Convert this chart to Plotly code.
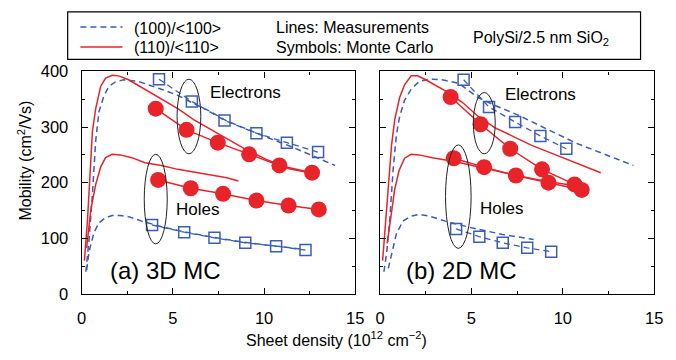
import plotly.graph_objects as go

W, H = 676, 360
RED = "#e8232a"
BLUE = "#3b5db5"

# ---------------- data: panel (a) 3D MC ----------------
meas_e100_a_x = [0.23, 0.41, 0.59, 0.77, 0.95, 1.22, 1.49, 1.85, 2.3, 3.11, 4.37, 5.27, 6.16, 7.06, 7.96, 9.04, 10.12, 11.55, 12.63, 13.89]
meas_e100_a_y = [40, 100, 180, 276, 328, 356, 373, 381, 385, 382, 368, 357, 342, 328, 311, 296, 282, 264, 249, 231]
meas_e110_a_x = [0.15, 0.32, 0.59, 0.77, 1.04, 1.31, 1.67, 2.03, 2.57, 3.47, 4.37, 5.27, 6.16, 7.06, 7.96, 9.04, 10.12, 11.37, 12.63]
meas_e110_a_y = [60, 134, 293, 333, 373, 388, 393, 392, 385, 368, 350, 333, 313, 296, 279, 259, 242, 225, 217]
meas_h110_a_x = [0.27, 0.5, 0.77, 1.04, 1.31, 1.67, 2.12, 2.75, 3.47, 4.37, 5.27, 6.16, 7.06, 7.96, 8.59]
meas_h110_a_y = [83, 151, 197, 228, 245, 251, 250, 245, 236, 231, 224, 219, 215, 209, 203]
meas_h100_a_x = [0.27, 0.41, 0.68, 0.95, 1.31, 1.67, 2.12, 2.57, 3.29, 4.37, 5.6, 7.2, 8.9, 10.6, 12.2]
meas_h100_a_y = [43, 77, 111, 128, 137, 141, 141, 139, 131, 121, 112, 102, 93, 86, 80]

mc_e100_a_x = [4.24, 6.04, 7.83, 9.58, 11.25, 12.96]
mc_e100_a_y = [386, 346, 312, 289, 272, 255]
mc_e110_a_x = [4.06, 5.75, 7.46, 9.18, 10.84, 12.63]
mc_e110_a_y = [333, 295, 272, 251, 231, 218]
mc_h110_a_x = [4.19, 5.98, 7.75, 9.58, 11.34, 13.0]
mc_h110_a_y = [205, 190, 180, 168, 159, 152]
mc_h100_a_x = [3.86, 5.62, 7.28, 8.97, 10.66, 12.27]
mc_h100_a_y = [124, 111, 101, 92, 86, 79]

# ---------------- data: panel (b) 2D MC ----------------
meas_e110_b_x = [0.14, 0.27, 0.45, 0.63, 0.8, 1.07, 1.34, 1.7, 2.05, 2.5, 3.57, 4.48, 5.37, 6.27, 7.16, 8.23, 9.3, 10.73, 12.07]
meas_e110_b_y = [60, 114, 194, 268, 313, 353, 376, 392, 392, 385, 365, 345, 319, 299, 285, 268, 254, 236, 218]
meas_e100_b_x = [0.21, 0.36, 0.54, 0.71, 0.89, 1.07, 1.34, 1.7, 2.14, 2.68, 3.39, 4.28, 5.37, 6.27, 7.52, 8.94, 10.73, 12.52, 13.86]
meas_e100_b_y = [40, 74, 137, 222, 285, 319, 348, 368, 382, 386, 385, 379, 353, 339, 322, 299, 271, 248, 231]
meas_h110_b_x = [0.39, 0.63, 0.8, 1.04, 1.34, 1.7, 2.14, 2.86, 3.57, 4.07, 5.6, 7.3, 9.0, 10.4]
meas_h110_b_y = [91, 148, 188, 222, 244, 251, 250, 245, 241, 238, 227, 214, 203, 196]
meas_h100_b_x = [0.45, 0.63, 0.89, 1.25, 1.7, 2.14, 2.68, 3.57, 5.0, 6.7, 8.4]
meas_h100_b_y = [46, 74, 108, 131, 140, 143, 140, 131, 119, 107, 98]

mc_e100_b_x = [4.57, 5.96, 7.39, 8.77, 10.19]
mc_e100_b_y = [385, 336, 309, 284, 261]
mc_e110_b_x = [3.86, 5.5, 7.12, 8.86, 10.64]
mc_e110_b_y = [354, 305, 261, 224, 197]
mc_h110_b_x = [4.03, 5.69, 7.43, 9.21, 11.03]
mc_h110_b_y = [244, 228, 213, 200, 187]
mc_h100_b_x = [4.16, 5.43, 6.71, 8.05, 9.36]
mc_h100_b_y = [117, 103, 92, 83, 76]

# ellipses (x0, x1, y0, y1) in data units
ellipses_a = [(5.23, 6.53, 252, 386), (3.43, 4.69, 90, 251)]
ellipses_b = [(5.1, 6.3, 252, 362), (3.58, 4.98, 82, 268)]

# text labels
labels_a = [("Electrons", 8.96, 362, 17), ("Holes", 6.35, 151, 17), ("(a) 3D MC", 4.6, 43, 24)]
labels_b = [("Electrons", 8.8, 359, 17), ("Holes", 6.63, 154, 17), ("(b) 2D MC", 4.48, 43, 24)]

x_ticks = [0, 5, 10, 15]
y_ticks = [0, 100, 200, 300, 400]

FONT = "Liberation Sans, Arial, sans-serif"
DASH = "6px,4px"

fig = go.Figure()


def line(xs, ys, color, dash, xa, ya):
    fig.add_trace(go.Scatter(x=xs, y=ys, mode="lines", xaxis=xa, yaxis=ya,
                             line=dict(color=color, width=1.5, dash=dash),
                             showlegend=False, hoverinfo="skip"))


def mc_sq(xs, ys, xa, ya):
    fig.add_trace(go.Scatter(x=xs, y=ys, mode="lines+markers", xaxis=xa, yaxis=ya,
                             line=dict(color=BLUE, width=1.3, dash=DASH),
                             marker=dict(symbol="square-open", size=11, color=BLUE,
                                         line=dict(color=BLUE, width=1.5)),
                             showlegend=False))


def mc_ci(xs, ys, xa, ya):
    fig.add_trace(go.Scatter(x=xs, y=ys, mode="lines+markers", xaxis=xa, yaxis=ya,
                             line=dict(color=RED, width=1.5),
                             marker=dict(symbol="circle", size=16, color=RED,
                                         line=dict(width=0)),
                             showlegend=False))


for xa, ya, d in [("x", "y", dict(
        me100=(meas_e100_a_x, meas_e100_a_y), me110=(meas_e110_a_x, meas_e110_a_y),
        mh110=(meas_h110_a_x, meas_h110_a_y), mh100=(meas_h100_a_x, meas_h100_a_y),
        ce100=(mc_e100_a_x, mc_e100_a_y), ce110=(mc_e110_a_x, mc_e110_a_y),
        ch110=(mc_h110_a_x, mc_h110_a_y), ch100=(mc_h100_a_x, mc_h100_a_y))),
        ("x2", "y2", dict(
        me100=(meas_e100_b_x, meas_e100_b_y), me110=(meas_e110_b_x, meas_e110_b_y),
        mh110=(meas_h110_b_x, meas_h110_b_y), mh100=(meas_h100_b_x, meas_h100_b_y),
        ce100=(mc_e100_b_x, mc_e100_b_y), ce110=(mc_e110_b_x, mc_e110_b_y),
        ch110=(mc_h110_b_x, mc_h110_b_y), ch100=(mc_h100_b_x, mc_h100_b_y)))]:
    line(*d["me100"], BLUE, DASH, xa, ya)
    line(*d["mh100"], BLUE, DASH, xa, ya)
    line(*d["me110"], RED, "solid", xa, ya)
    line(*d["mh110"], RED, "solid", xa, ya)
    mc_sq(*d["ce100"], xa, ya)
    mc_sq(*d["ch100"], xa, ya)
    mc_ci(*d["ce110"], xa, ya)
    mc_ci(*d["ch110"], xa, ya)

shapes = []
annotations = []
for xa, ya, ells, labs in [("x", "y", ellipses_a, labels_a), ("x2", "y2", ellipses_b, labels_b)]:
    for (x0, x1, y0, y1) in ells:
        shapes.append(dict(type="circle", xref=xa, yref=ya, x0=x0, x1=x1, y0=y0, y1=y1,
                           line=dict(color="#222", width=1)))
    for (t, x, y, s) in labs:
        annotations.append(dict(text=t, x=x, y=y, xref=xa, yref=ya, showarrow=False,
                                font=dict(size=s, color="black", family=FONT),
                                xanchor="center", yanchor="middle"))


def px(x):
    return x / W


def py(y):
    return 1 - y / H


# legend box
shapes.append(dict(type="rect", xref="paper", yref="paper", x0=px(64), x1=px(649),
                   y0=py(53), y1=py(3), line=dict(color="black", width=1.2)))
shapes.append(dict(type="line", xref="paper", yref="paper", x0=px(77), x1=px(120),
                   y0=py(19), y1=py(19), line=dict(color=BLUE, width=1.5, dash=DASH)))
shapes.append(dict(type="line", xref="paper", yref="paper", x0=px(77), x1=px(120),
                   y0=py(40), y1=py(40), line=dict(color=RED, width=1.5)))

legend_texts = [("(100)/&lt;100&gt;", 130, 20), ("(110)/&lt;110&gt;", 130, 41),
                ("Lines: Measurements", 275, 19), ("Symbols: Monte Carlo", 275, 40),
                ("PolySi/2.5 nm SiO<sub>2</sub>", 476, 31)]
for t, x, y in legend_texts:
    annotations.append(dict(text=t, x=px(x), y=py(y), xref="paper", yref="paper",
                            showarrow=False, xanchor="left", yanchor="middle",
                            font=dict(size=16, color="black", family=FONT)))

annotations.append(dict(text="Sheet density (10<sup>12</sup> cm<sup>\u22122</sup>)",
                        x=px(339), y=py(347), xref="paper", yref="paper", showarrow=False,
                        xanchor="center", yanchor="middle",
                        font=dict(size=16, color="black", family=FONT)))
annotations.append(dict(text="Mobility (cm<sup>2</sup>/Vs)", textangle=-90,
                        x=px(20), y=py(160), xref="paper", yref="paper", showarrow=False,
                        xanchor="center", yanchor="middle",
                        font=dict(size=16, color="black", family=FONT)))

axis_common = dict(showline=True, linecolor="black", linewidth=1.2, mirror="ticks",
                   ticks="inside", ticklen=6, tickwidth=1.2, tickcolor="black",
                   showgrid=False, zeroline=False,
                   tickfont=dict(size=16.5, color="black", family=FONT))

fig.update_layout(
    width=W, height=H, margin=dict(l=0, r=0, t=0, b=0),
    paper_bgcolor="white", plot_bgcolor="white",
    showlegend=False,
    xaxis=dict(domain=[px(78.3), px(357.7)], range=[0, 15], tickvals=x_ticks, anchor="y",
               minor=dict(dtick=2.5, ticklen=3, tickcolor="black", ticks="inside"),
               ticklabelstandoff=9, **axis_common),
    xaxis2=dict(domain=[px(383), px(663)], range=[0, 15], tickvals=x_ticks, anchor="y2",
                minor=dict(dtick=2.5, ticklen=3, tickcolor="black", ticks="inside"),
                ticklabelstandoff=9, **axis_common),
    yaxis=dict(domain=[py(300), py(65.7)], range=[0, 400], tickvals=y_ticks, anchor="x",
               minor=dict(dtick=50, ticklen=3, tickcolor="black", ticks="inside"),
               ticklabelstandoff=9, **axis_common),
    yaxis2=dict(domain=[py(300), py(65.7)], range=[0, 400], tickvals=y_ticks, anchor="x2",
                showticklabels=False,
                minor=dict(dtick=50, ticklen=3, tickcolor="black", ticks="inside"),
                **axis_common),
    shapes=shapes, annotations=annotations,
)

fig.write_html("out.html", config={"displayModeBar": False},
               post_script="document.body.style.margin='0';")
